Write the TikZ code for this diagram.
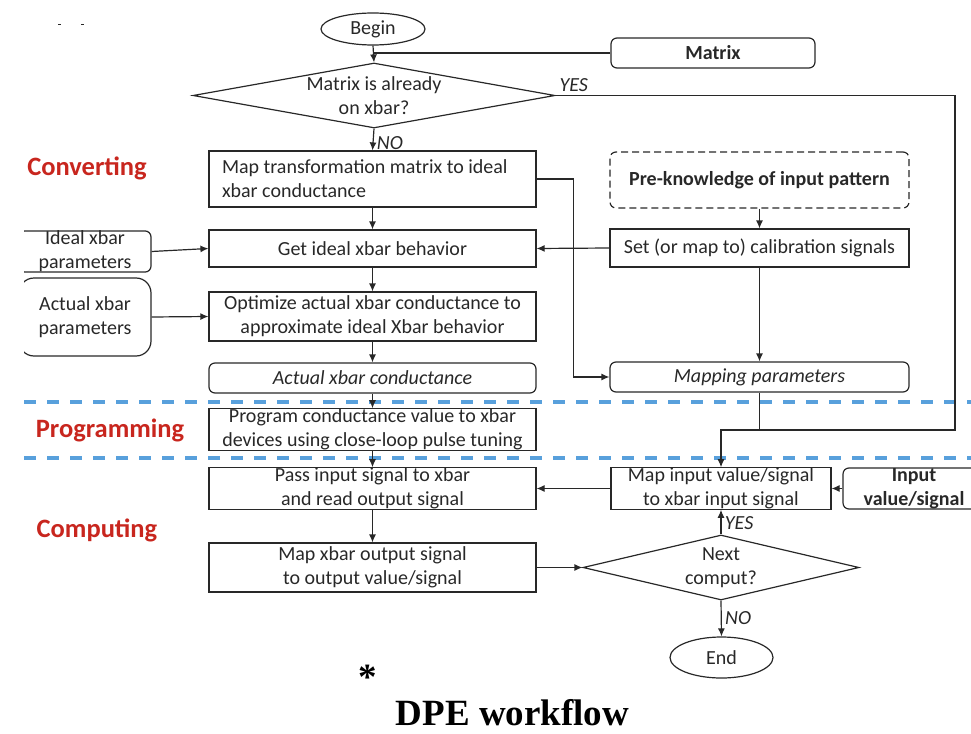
\documentclass[tikz,border=0pt]{standalone}
\usepackage{
	fontspec,			% Fonts
	xcolor,			% Colours
	tikz
}
\usetikzlibrary{shapes.geometric,arrows.meta}
\setmainfont{Carlito}
\newfontfamily\titlefont{Liberation Serif}
\definecolor{stagered}{RGB}{200,38,30}
\definecolor{cutblue}{RGB}{88,160,220}
\definecolor{inkgray}{RGB}{40,40,40}

\begin{document}
\begin{tikzpicture}[x=1pt,y=-1pt,
		font=\fontsize{20}{24}\selectfont,
		every node/.style={text=inkgray},
		flow/.style={draw=inkgray,line width=1.2pt,inner sep=0pt,align=center,minimum width=327pt},
		roundbox/.style={flow,rounded corners=6pt},
		decision/.style={draw=inkgray,line width=1.2pt,diamond,inner sep=-4pt,align=center},
		terminal/.style={draw=inkgray,line width=1.2pt,ellipse,inner sep=0pt},
		link/.style={draw=inkgray,line width=1.2pt,-{Latex[length=8pt,width=7pt]}},
		plain/.style={draw=inkgray,line width=1.2pt},
		stage/.style={text=stagered,font=\fontsize{26.5}{30}\selectfont\bfseries},
		answer/.style={font=\fontsize{20}{24}\selectfont\itshape},
		boldtext/.style={font=\fontsize{20}{24}\selectfont\bfseries},
		slanttext/.style={font=\fontsize{20}{24}\selectfont\itshape},
		titletext/.style={text=black,inner sep=0pt,font=\titlefont\fontsize{37}{42}\selectfont\bfseries},
		phase/.style={draw=cutblue,line width=3.5pt,dash pattern=on 12pt off 11pt}]
		\useasboundingbox (0,0) rectangle (971,733);
		\draw[inkgray,line width=1pt] (58,25) -- (61,25) (81,25) -- (84,25);
		\draw[phase] (24,402) -- (971,402);
		\draw[phase] (24,458) -- (971,458);
		\node[stage] (conv) at (87,168) {Converting};
		\node[stage] (prog) at (110,430) {Programming};
		\node[stage] (comp) at (97,530) {Computing};
		\node[terminal,minimum width=104pt,minimum height=32pt] (begin) at (373,29) {Begin};
		\node[roundbox,boldtext,minimum width=204pt,minimum height=30pt] (matrix) at (713,53) {Matrix};
		\node[decision,minimum width=362pt,minimum height=65pt,aspect=5.57] (onxbar) at (374,95.5) {Matrix is already\\on xbar?};
		\node[flow,text width=301pt,inner xsep=13pt,align=flush left,minimum height=56pt] (maptr) at (372.5,179) {Map transformation matrix to ideal\\xbar conductance};
		\node[flow,minimum height=37pt] (getid) at (372.5,248.5) {Get ideal xbar behavior};
		\node[flow,minimum height=49pt] (optim) at (372.5,316.5) {Optimize actual xbar conductance to\\approximate ideal Xbar behavior};
		\node[roundbox,slanttext,minimum height=30pt] (actcond) at (372.5,378) {Actual xbar conductance};
		\node[flow,minimum height=39pt] (progr) at (372.5,429.5) {Program conductance value to xbar\\devices using close-loop pulse tuning};
		\node[flow,minimum height=41pt] (pass) at (372.5,488.5) {Pass input signal to xbar\\and read output signal};
		\node[flow,minimum height=49pt] (mapout) at (372.5,567.5) {Map xbar output signal\\to output value/signal};
		\node[roundbox,boldtext,dash pattern=on 7pt off 4pt,minimum width=299pt,minimum height=56pt] (preknow) at (759.5,180) {Pre-knowledge of input pattern};
		\node[flow,minimum width=299pt,minimum height=38pt] (setcal) at (759.5,248) {Set (or map to) calibration signals};
		\node[roundbox,slanttext,minimum width=299pt,minimum height=30pt] (mappar) at (759.5,377) {Mapping parameters};
		\node[flow,minimum width=220pt,minimum height=41pt] (mapin) at (721,488.5) {Map input value/signal\\to xbar input signal};
		\node[roundbox,boldtext,minimum width=142pt,minimum height=41pt] (inval) at (914,488.5) {Input\\value/signal};
		\node[decision,minimum width=276pt,minimum height=65pt,aspect=4.25] (nextc) at (721,567.5) {Next\\comput?};
		\node[terminal,minimum width=103pt,minimum height=41pt] (endn) at (721.5,657.5) {End};
		\begin{scope}
			\clip (24,0) rectangle (971,733);
			\node[roundbox,minimum width=132pt,minimum height=41pt] (idealp) at (85,251.5) {Ideal xbar\\parameters};
			\node[roundbox,rounded corners=15pt,minimum width=132pt,minimum height=78pt] (actp) at (85,317) {Actual xbar\\parameters};
		\end{scope}
		\node[titletext] (star) at (368,677) {*};
		\node[titletext] (title) at (512.5,713) {DPE workflow};
		\coordinate (yesturn) at (955,95.5);
		\coordinate (yesdown) at (955,430);
		\coordinate (bus) at (721,430);
		\draw[plain] (matrix.west) -- (begin.south |- matrix.west);
		\draw[link] (begin.south) -- (onxbar.north);
		\draw[link] (onxbar.south) -- node[answer,right,pos=0.65]{NO} (maptr.north);
		\draw[link] (onxbar.east) node[answer,anchor=south west]{YES} -- (yesturn) -- (yesdown) -- (bus) -- (mapin.north);
		\draw[plain] (mappar.south) -- (mappar.south |- bus);
		\foreach \a/\b in {maptr/getid,getid/optim,optim/actcond,actcond/progr,progr/pass,pass/mapout}
			\draw[link] (\a.south) -- (\b.north);
		\draw[link] (maptr.east) -- ++(37,0) |- (mappar.west);
		\draw[link] (preknow.south) -- (setcal.north);
		\draw[link] (setcal.west) -- (getid.east);
		\draw[link] (setcal.south) -- (mappar.north);
		\draw[link] (idealp.east) -- (getid.west);
		\draw[link] (actp.east) -- (optim.west);
		\draw[link] (mapin.west) -- (pass.east);
		\draw[link] (inval.west) -- (mapin.east);
		\draw[link] (mapout.east) -- (nextc.west);
		\draw[link] (nextc.north) -- node[answer,right,pos=0.45]{YES} (mapin.south);
		\draw[link] (nextc.south) -- node[answer,right]{NO} (endn.north);
	\end{tikzpicture}
\end{document}
